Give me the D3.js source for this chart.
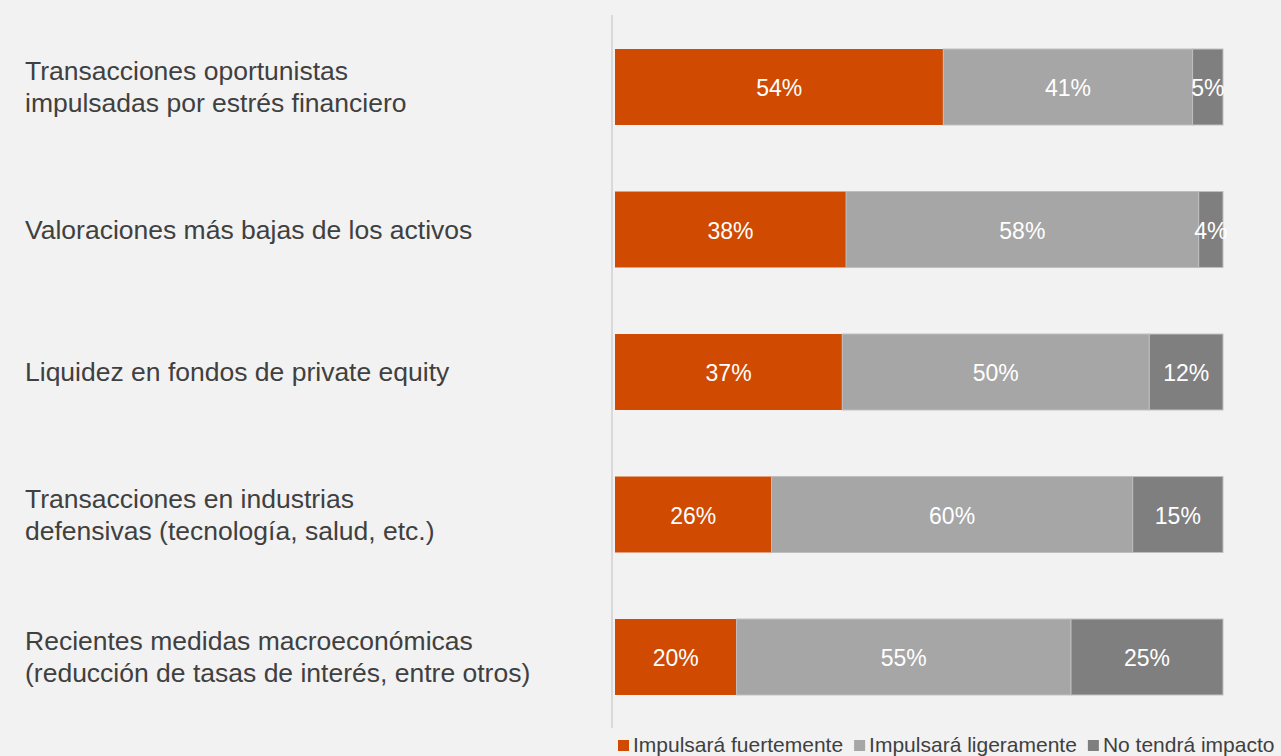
<!DOCTYPE html>
<html><head><meta charset="utf-8">
<script src="https://cdn.jsdelivr.net/npm/d3@7"></script>
<style>
html,body{margin:0;padding:0;background:#f2f2f2;}
svg{display:block;font-family:"Liberation Sans",Arial,sans-serif;}
</style></head>
<body>
<svg id="c" width="1281" height="756"></svg>
<script>
const categories = [
  ["Transacciones oportunistas","impulsadas por estrés financiero"],
  ["Valoraciones más bajas de los activos"],
  ["Liquidez en fondos de private equity"],
  ["Transacciones en industrias","defensivas (tecnología, salud, etc.)"],
  ["Recientes medidas macroeconómicas","(reducción de tasas de interés, entre otros)"]
];
const seriesNames = ["Impulsará fuertemente","Impulsará ligeramente","No tendrá impacto"];
const fuerte = [54,38,37,26,20];
const ligera = [41,58,50,60,55];
const sinImpacto = [5,4,12,15,25];
const colors = ["#d04a02","#a6a6a6","#7f7f7f"];

const svg = d3.select("#c");
svg.append("rect").attr("width",1281).attr("height",756).attr("fill","#f2f2f2");

const data = categories.map((c,i)=>({i, k0:fuerte[i], k1:ligera[i], k2:sinImpacto[i]}));
const keys = ["k0","k1","k2"];
const stack = d3.stack().keys(keys).offset(d3.stackOffsetExpand);
const series = stack(data);

const x = d3.scaleLinear().domain([0,1]).range([615,1223]);
const y = d3.scaleBand().domain(d3.range(categories.length)).range([15.75,728.25]).paddingInner(0.467).paddingOuter(0.2335);

// axis line
svg.append("line").attr("x1",612).attr("x2",612).attr("y1",15).attr("y2",728)
  .attr("stroke","#d9d9d9").attr("stroke-width",2);

series.forEach((s,si)=>{
  const g = svg.append("g");
  g.selectAll("rect").data(s).join("rect")
    .attr("x",d=>x(d[0])).attr("y",d=>y(d.data.i))
    .attr("width",d=>x(d[1])-x(d[0])).attr("height",y.bandwidth())
    .attr("fill",colors[si])
    .attr("stroke",si===0?"none":"#bfbfbf").attr("stroke-width",si===0?0:1);
  g.selectAll("text").data(s).join("text")
    .attr("x",d=>(x(d[0])+x(d[1]))/2).attr("y",d=>y(d.data.i)+y.bandwidth()/2+1)
    .attr("text-anchor","middle").attr("dominant-baseline","central")
    .attr("fill","#ffffff").attr("font-size",23)
    .text(d=>d.data[keys[si]]+"%");
});

// category labels
categories.forEach((lines,i)=>{
  const cy = y(i)+y.bandwidth()/2;
  const lh = 32;
  const t = svg.append("text").attr("x",25).attr("fill","#404040").attr("font-size",26.5);
  lines.forEach((ln,j)=>{
    t.append("tspan").attr("x",25)
      .attr("y",cy + (j-(lines.length-1)/2)*lh)
      .attr("dominant-baseline","central").text(ln);
  });
});

// legend
const legend = svg.append("g");
let lx = 618;
const ly = 744;
seriesNames.forEach((n,i)=>{
  legend.append("rect").attr("x",lx).attr("y",ly-4).attr("width",11).attr("height",11).attr("fill",colors[i]);
  const t = legend.append("text").attr("x",lx+15).attr("y",ly).attr("dominant-baseline","central")
    .attr("fill","#404040").attr("font-size",21).text(n);
  lx += 15 + t.node().getComputedTextLength() + 11;
});
</script>
</body></html>
